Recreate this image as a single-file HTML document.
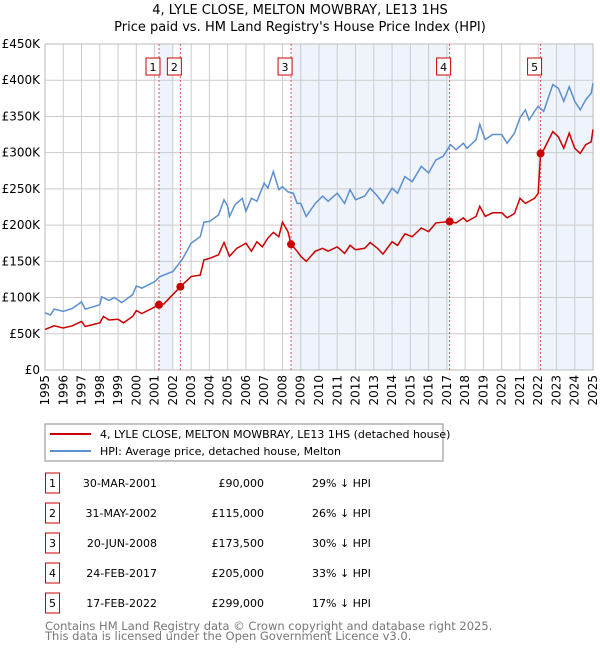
<!DOCTYPE html>
<html><head><meta charset="utf-8"><style>
body{margin:0;background:#fff;font-family:"DejaVu Sans","Liberation Sans",sans-serif;}
svg text{font-family:"DejaVu Sans","Liberation Sans",sans-serif;}
</style></head><body>
<svg id="c" width="600" height="650" xmlns="http://www.w3.org/2000/svg">
<text x="300" y="14" text-anchor="middle" font-size="13">4, LYLE CLOSE, MELTON MOWBRAY, LE13 1HS</text>
<text x="300" y="31" text-anchor="middle" font-size="13">Price paid vs. HM Land Registry's House Price Index (HPI)</text>
<g id="plot"></g>
<rect x="45" y="424" width="398" height="37" fill="#fff" stroke="#888"/>
<line x1="50" y1="434" x2="91" y2="434" stroke="#cc0000" stroke-width="2"/>
<text x="100" y="438" font-size="11">4, LYLE CLOSE, MELTON MOWBRAY, LE13 1HS (detached house)</text>
<line x1="50" y1="451" x2="91" y2="451" stroke="#5b8fd0" stroke-width="2"/>
<text x="100" y="455" font-size="11">HPI: Average price, detached house, Melton</text>
<g id="tbl"></g>
<text x="45" y="630" font-size="11.5" fill="#777">Contains HM Land Registry data © Crown copyright and database right 2025.</text>
<text x="45" y="640" font-size="11.5" fill="#777">This data is licensed under the Open Government Licence v3.0.</text>
</svg>
<script>
const years=[1995,1996,1997,1998,1999,2000,2001,2002,2003,2004,2005,2006,2007,2008,2009,2010,2011,2012,2013,2014,2015,2016,2017,2018,2019,2020,2021,2022,2023,2024,2025];
const yTicks=[0,50,100,150,200,250,300,350,400,450];
const hpiT=[1995.0,1995.3,1995.5,1996,1996.5,1997.0,1997.2,1998.0,1998.1,1998.5,1998.8,1999.2,1999.8,2000.0,2000.3,2001.0,2001.3,2002,2002.5,2003,2003.5,2003.7,2004,2004.5,2004.8,2005.0,2005.1,2005.4,2005.8,2006.0,2006.3,2006.6,2007.0,2007.2,2007.5,2007.8,2008.0,2008.3,2008.6,2008.8,2009.0,2009.3,2009.8,2010.2,2010.5,2011.0,2011.4,2011.7,2012.0,2012.5,2012.8,2013.2,2013.5,2014.0,2014.3,2014.7,2015.1,2015.6,2016.0,2016.4,2016.8,2017.2,2017.5,2017.9,2018.1,2018.6,2018.8,2019.1,2019.5,2020.0,2020.3,2020.7,2021.0,2021.3,2021.5,2021.8,2022.0,2022.3,2022.8,2023.1,2023.4,2023.7,2024.0,2024.3,2024.6,2024.9,2025.0];
const hpiV=[79,76,84,81,85,94,84,90,101,96,100,93,104,116,113,122,129,136,152,175,184,204,205,214,235,226,212,228,237,219,237,233,258,251,274,249,253,246,244,230,230,212,230,240,233,244,230,249,235,240,251,240,230,251,244,267,260,281,272,290,295,311,304,313,306,318,339,318,325,325,313,327,348,359,345,357,364,357,394,389,371,391,371,359,373,382,396];
const prT=[1995.0,1995.5,1996,1996.5,1997.0,1997.2,1998.0,1998.2,1998.5,1999.0,1999.3,1999.8,2000.0,2000.3,2001.24,2001.5,2002.41,2003.0,2003.5,2003.7,2004.0,2004.5,2004.8,2005.1,2005.5,2006.0,2006.3,2006.6,2006.9,2007.2,2007.5,2007.8,2008.0,2008.3,2008.47,2008.8,2009.0,2009.3,2009.8,2010.2,2010.5,2011.0,2011.4,2011.7,2012.0,2012.5,2012.8,2013.2,2013.5,2014.0,2014.3,2014.7,2015.1,2015.6,2016.0,2016.4,2017.15,2017.5,2017.9,2018.1,2018.6,2018.8,2019.1,2019.5,2020.0,2020.3,2020.7,2021.0,2021.3,2021.8,2022.0,2022.13,2022.3,2022.8,2023.1,2023.4,2023.7,2024.0,2024.3,2024.6,2024.9,2025.0];
const prV=[56,61,58,61,67,60,65,74,69,70,65,74,82,78,90,91,115,129,131,152,154,159,176,157,168,175,164,177,170,182,190,184,204,191,173.5,164,157,150,164,168,164,170,161,172,166,168,176,168,160,177,172,188,184,196,191,203,205,203,210,205,212,226,212,217,217,210,216,237,230,237,244,299,304,329,322,306,327,306,299,311,315,332];
const saleT=[2001.24,2002.41,2008.47,2017.15,2022.13];
const saleV=[90,115,173.5,205,299];
const saleDates=["30-MAR-2001","31-MAY-2002","20-JUN-2008","24-FEB-2017","17-FEB-2022"];
const salePrices=["£90,000","£115,000","£173,500","£205,000","£299,000"];
const saleHpi=["29% ↓ HPI","26% ↓ HPI","30% ↓ HPI","33% ↓ HPI","17% ↓ HPI"];
const bandStart=[2001.24,2008.47,2022.13];
const bandEnd=[2002.0,2017.15,2025.0];

const NS="http://www.w3.org/2000/svg";
const X0=45,X1=593,Y0=370,Y1=44;
const sx=t=>X0+(t-1995)/30*(X1-X0);
const sy=v=>Y0-v/450*(Y0-Y1);
const g=document.getElementById('plot');
function mk(tag,attrs,parent){const e=document.createElementNS(NS,tag);for(const k in attrs)e.setAttribute(k,attrs[k]);(parent||g).appendChild(e);return e;}
bandStart.forEach((b,i)=>{const r=mk('rect',{x:sx(b),y:Y1,width:sx(bandEnd[i])-sx(b),height:Y0-Y1,fill:'#eef3fc'});

});
years.forEach(y=>{const l=mk('line',{x1:sx(y),x2:sx(y),y1:Y1,y2:Y0,stroke:'#ccc'});


const t=mk('text',{x:0,y:0,'font-size':12,'text-anchor':'end',transform:`translate(${sx(y)+4},${Y0+5}) rotate(-90)`});t.textContent=y;

});
yTicks.forEach(v=>{const l=mk('line',{x1:X0,x2:X1,y1:sy(v),y2:sy(v),stroke:'#ccc'});


const t=mk('text',{x:40,y:sy(v)+4,'font-size':12,'text-anchor':'end'});t.textContent=v===0?'£0':'£'+v+'K';

});
const ax=mk('rect',{x:X0,y:Y1,width:X1-X0,height:Y0-Y1,fill:'none',stroke:'#bbb'});


saleT.forEach((t,i)=>{const l=mk('line',{x1:sx(t),x2:sx(t),y1:Y1,y2:Y0,stroke:'#e05555','stroke-dasharray':'2,2'});


const r=mk('rect',{x:sx(t)-13,y:58,width:14,height:17,fill:'#fff',stroke:'#cc0000'});


const tx=mk('text',{x:sx(t)-6,y:71,'font-size':11,'text-anchor':'middle'});tx.textContent=i+1;

});
const hp=mk('polyline',{points:hpiT.map((t,i)=>sx(t)+','+sy(hpiV[i])).join(' '),fill:'none',stroke:'#5b8fd0','stroke-width':1.5});


const pp=mk('polyline',{points:prT.map((t,i)=>sx(t)+','+sy(prV[i])).join(' '),fill:'none',stroke:'#cc0000','stroke-width':1.5});


saleT.forEach((t,i)=>{const c=mk('circle',{cx:sx(t),cy:sy(saleV[i]),r:4,fill:'#cc0000'});

});
const tb=document.getElementById('tbl');
saleDates.forEach((d,i)=>{const cy=483+i*30;
const r=mk('rect',{x:45.5,y:cy-10,width:14,height:20,fill:'#fff',stroke:'#cc0000'},tb);


const n=mk('text',{x:52.5,y:cy+4,'font-size':11,'text-anchor':'middle'},tb);n.textContent=i+1;


const a=mk('text',{x:157,y:cy+4,'font-size':11,'text-anchor':'end'},tb);a.textContent=d;


const b=mk('text',{x:264,y:cy+4,'font-size':11,'text-anchor':'end'},tb);b.textContent=salePrices[i];


const c=mk('text',{x:312,y:cy+4,'font-size':11},tb);c.textContent=saleHpi[i];

});
</script>
</body></html>
